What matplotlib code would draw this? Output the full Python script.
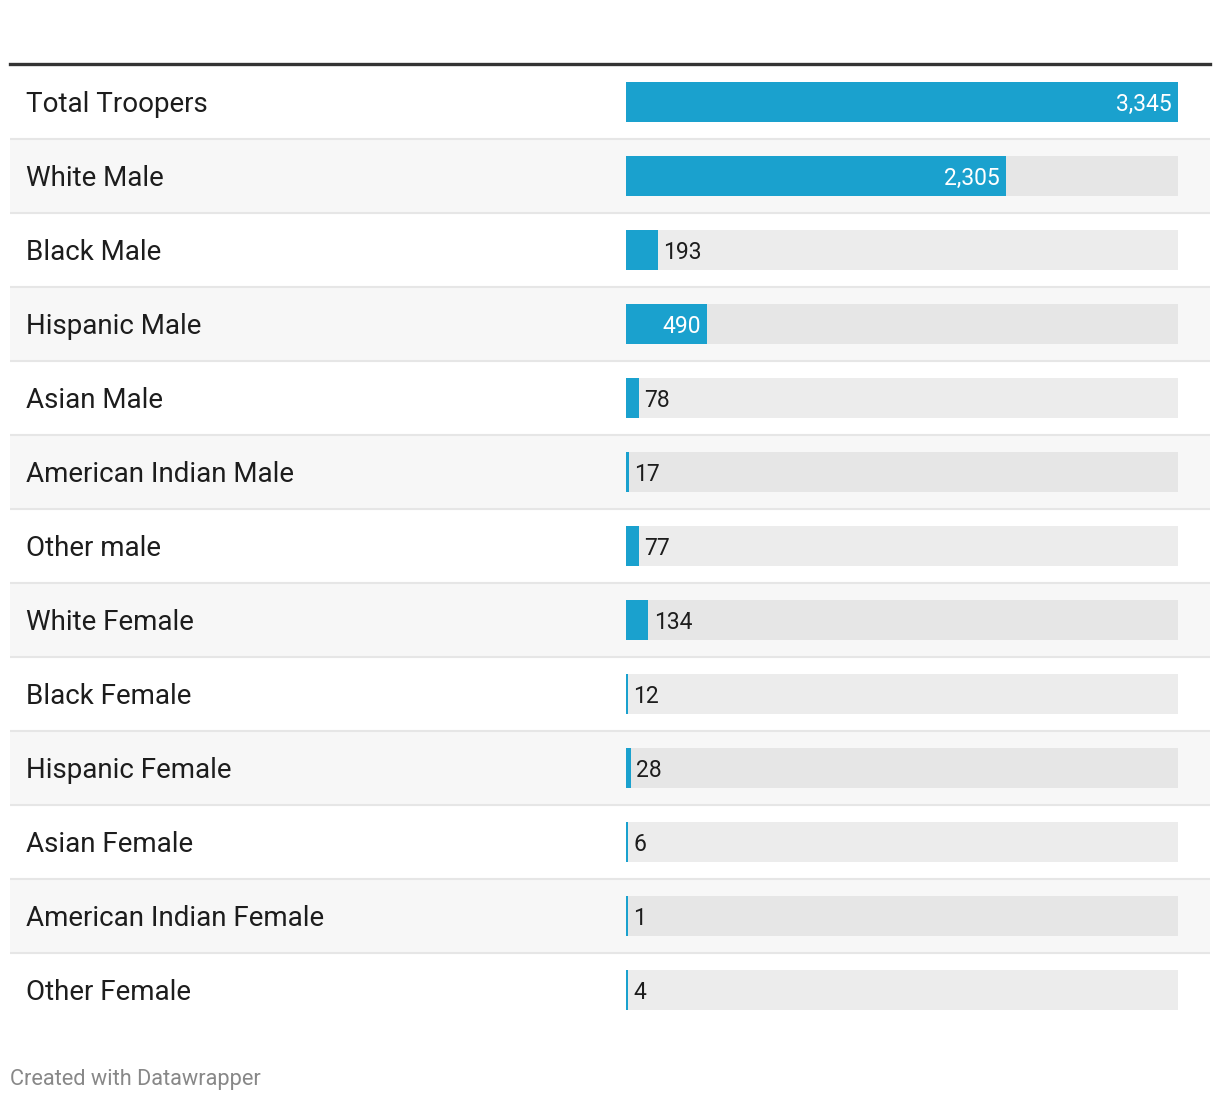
import matplotlib
matplotlib.use("Agg")
import matplotlib.pyplot as plt

plt.rcParams['font.family'] = ['Roboto', 'DejaVu Sans']

# data
categories = ["Total Troopers", "White Male", "Black Male", "Hispanic Male",
              "Asian Male", "American Indian Male", "Other male", "White Female",
              "Black Female", "Hispanic Female", "Asian Female",
              "American Indian Female", "Other Female"]
values = [3345, 2305, 193, 490, 78, 17, 77, 134, 12, 28, 6, 1, 4]

W, H = 1220, 1102
bar_color = "#1aa1ce"
n = len(categories)
rows = list(range(n))

fig = plt.figure(figsize=(W / 100, H / 100), dpi=100)
fig.patch.set_facecolor("white")

top_px, row_px = 65, 74
bottom_px = top_px + n * row_px
ax_h = (bottom_px - top_px) / H
ax_b = 1 - bottom_px / H

# background axes: stripes, separators, labels
ax_bg = fig.add_axes([10 / W, ax_b, 1200 / W, ax_h])
ax_bg.set_xlim(0, 1)
ax_bg.set_ylim(n - 0.5, -0.5)
ax_bg.axis("off")
for i in rows:
    if i % 2 == 1:
        ax_bg.axhspan(i - 0.5, i + 0.5, color="#f7f7f7", lw=0, zorder=0)
    if i < n - 1:
        ax_bg.axhline(i + 0.5, color="#e6e6e6", lw=1.5, zorder=1)
    ax_bg.annotate(categories[i], (16 / 1200, i), xytext=(0, -1.5),
                   textcoords="offset points", va="center", ha="left",
                   fontsize=20, color="#1d1d1d")
ax_bg.axhline(-0.5 - 0.02, color="#333333", lw=2.4, clip_on=False, zorder=2)

# bar axes
ax = fig.add_axes([626 / W, ax_b, 552 / W, ax_h], sharey=ax_bg)
ax.set_xlim(0, max(values))
ax.set_ylim(n - 0.5, -0.5)
ax.axis("off")
ax.patch.set_alpha(0)

px_per_val = 552 / max(values)
min_val = 2 / px_per_val  # datawrapper keeps tiny bars visible

track_colors = ["#e6e6e6" if i % 2 == 1 else "#ececec" for i in rows]
ax.barh(rows, [max(values)] * n, height=0.54, color=track_colors, lw=0, zorder=1)
ax.barh(rows, [max(v, min_val) for v in values], height=0.54, color=bar_color,
        lw=0, zorder=2)

for i, v in enumerate(values):
    label = f"{v:,}"
    if v * px_per_val > 60:
        ax.annotate(label, (v, i), xytext=(-4.5, -1.5), textcoords="offset points",
                    ha="right", va="center", fontsize=16.5, color="white", zorder=3)
    else:
        ax.annotate(label, (max(v, min_val), i), xytext=(4, -1.5),
                    textcoords="offset points", ha="left", va="center",
                    fontsize=16.5, color="#1d1d1d", zorder=3)

fig.text(10 / W, 1 - 1079 / H, "Created with Datawrapper", ha="left", va="center",
         fontsize=15.7, color="#888888")

fig.savefig("out.png", dpi=100, facecolor="white")
